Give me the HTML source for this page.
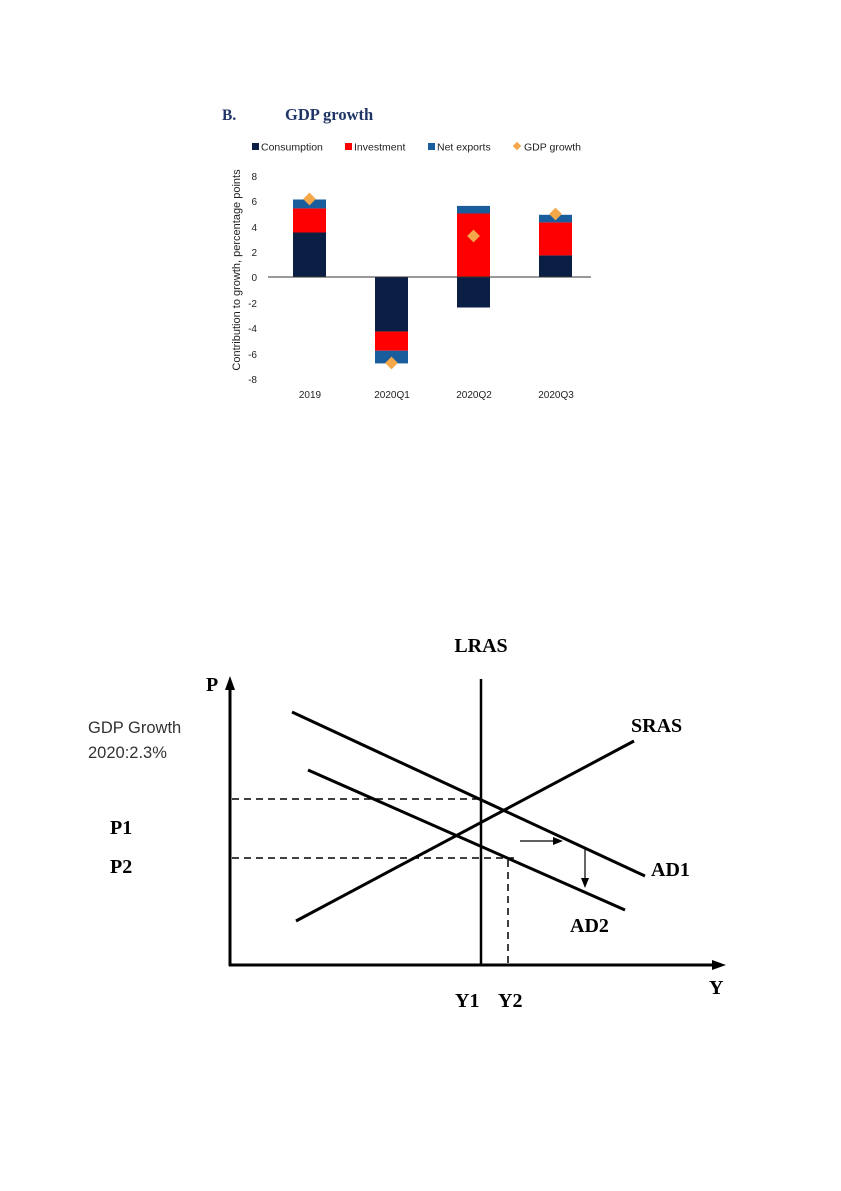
<!DOCTYPE html>
<html><head><meta charset="utf-8"><style>
html,body{margin:0;padding:0;background:#fff;}
svg{display:block;}
</style></head><body>
<svg width="841" height="1191" viewBox="0 0 841 1191" xmlns="http://www.w3.org/2000/svg">
<rect width="841" height="1191" fill="#fff"/>
<!-- Top chart -->
<text x="222" y="120" font-family="Liberation Serif" font-weight="bold" font-size="15.5" fill="#1f3566">B.</text>
<text x="285" y="120" font-family="Liberation Serif" font-weight="bold" font-size="16.5" fill="#1f3566">GDP growth</text>
<g font-family="Liberation Sans" font-size="10.5" fill="#222">
<rect x="252" y="143" width="7" height="7" fill="#0b1f45"/><text x="261" y="150.5">Consumption</text>
<rect x="345" y="143" width="7" height="7" fill="#ff0000"/><text x="354" y="150.5">Investment</text>
<rect x="428" y="143" width="7" height="7" fill="#1a5d9c"/><text x="437" y="150.5">Net exports</text>
<rect x="514" y="143" width="6" height="6" fill="#f5a84a" transform="rotate(45 517 146)"/><text x="524" y="150.5">GDP growth</text>
</g>
<g font-family="Liberation Sans" font-size="10" fill="#222" text-anchor="end">
<text x="257" y="180">8</text><text x="257" y="205">6</text><text x="257" y="231">4</text><text x="257" y="256">2</text>
<text x="257" y="281">0</text><text x="257" y="307">-2</text><text x="257" y="332">-4</text><text x="257" y="358">-6</text><text x="257" y="383">-8</text>
</g>
<text transform="translate(240 270) rotate(-90)" text-anchor="middle" font-family="Liberation Sans" font-size="11" fill="#222">Contribution to growth, percentage points</text>
<g>
<rect x="293" y="232.5" width="33" height="44.5" fill="#0b1f45"/>
<rect x="293" y="208.4" width="33" height="24.1" fill="#ff0000"/>
<rect x="293" y="199.5" width="33" height="8.9" fill="#1a5d9c"/>
<rect x="375" y="277" width="33" height="54.6" fill="#0b1f45"/>
<rect x="375" y="331.6" width="33" height="19.1" fill="#ff0000"/>
<rect x="375" y="350.7" width="33" height="12.7" fill="#1a5d9c"/>
<rect x="457" y="277" width="33" height="30.5" fill="#0b1f45"/>
<rect x="457" y="213.5" width="33" height="63.5" fill="#ff0000"/>
<rect x="457" y="205.9" width="33" height="7.6" fill="#1a5d9c"/>
<rect x="539" y="255.4" width="33" height="21.6" fill="#0b1f45"/>
<rect x="539" y="222.4" width="33" height="33" fill="#ff0000"/>
<rect x="539" y="214.8" width="33" height="7.6" fill="#1a5d9c"/>
</g>
<line x1="268" y1="277" x2="591" y2="277" stroke="#333" stroke-width="1"/>
<g fill="#f5a84a">
<rect x="305" y="194.5" width="9" height="9" transform="rotate(45 309.5 199)"/>
<rect x="387" y="358.5" width="9" height="9" transform="rotate(45 391.5 363)"/>
<rect x="469" y="231.5" width="9" height="9" transform="rotate(45 473.5 236)"/>
<rect x="551" y="209.5" width="9" height="9" transform="rotate(45 555.5 214)"/>
</g>
<g font-family="Liberation Sans" font-size="10" fill="#222" text-anchor="middle">
<text x="310" y="398">2019</text><text x="392" y="398">2020Q1</text><text x="474" y="398">2020Q2</text><text x="556" y="398">2020Q3</text>
</g>
<!-- Bottom diagram -->
<g stroke="#000" stroke-width="3" fill="none">
<line x1="230" y1="966" x2="230" y2="688"/>
<line x1="229" y1="965" x2="714" y2="965"/>
<line x1="481" y1="679" x2="481" y2="965" stroke-width="2.5"/>
<line x1="296" y1="921" x2="634" y2="741"/>
<line x1="292" y1="712" x2="645" y2="876"/>
<line x1="308" y1="770" x2="625" y2="910"/>
</g>
<polygon points="230,676 225,690 235,690" fill="#000"/>
<polygon points="726,965 712,960 712,970" fill="#000"/>
<g stroke="#000" stroke-width="1.5" stroke-dasharray="7,5" fill="none">
<line x1="232" y1="799" x2="480" y2="799"/>
<line x1="232" y1="858" x2="514" y2="858"/>
<line x1="508" y1="860" x2="508" y2="964"/>
</g>
<line x1="520" y1="841" x2="555" y2="841" stroke="#000" stroke-width="1.2"/>
<polygon points="563,841 553,837 553,845" fill="#000"/>
<line x1="585" y1="847" x2="585" y2="880" stroke="#000" stroke-width="1.2"/>
<polygon points="585,888 581,878 589,878" fill="#000"/>
<g font-family="Liberation Serif" font-weight="bold" font-size="20" fill="#000">
<text x="481" y="652" text-anchor="middle">LRAS</text>
<text x="206" y="691">P</text>
<text x="631" y="732">SRAS</text>
<text x="651" y="876">AD1</text>
<text x="570" y="932">AD2</text>
<text x="709" y="994">Y</text>
<text x="455" y="1007">Y1</text>
<text x="498" y="1007">Y2</text>
<text x="110" y="834">P1</text>
<text x="110" y="873">P2</text>
</g>
<g font-family="Liberation Sans" font-size="16.5" fill="#333">
<text x="88" y="733">GDP Growth</text>
<text x="88" y="758">2020:2.3%</text>
</g>
</svg>
</body></html>
